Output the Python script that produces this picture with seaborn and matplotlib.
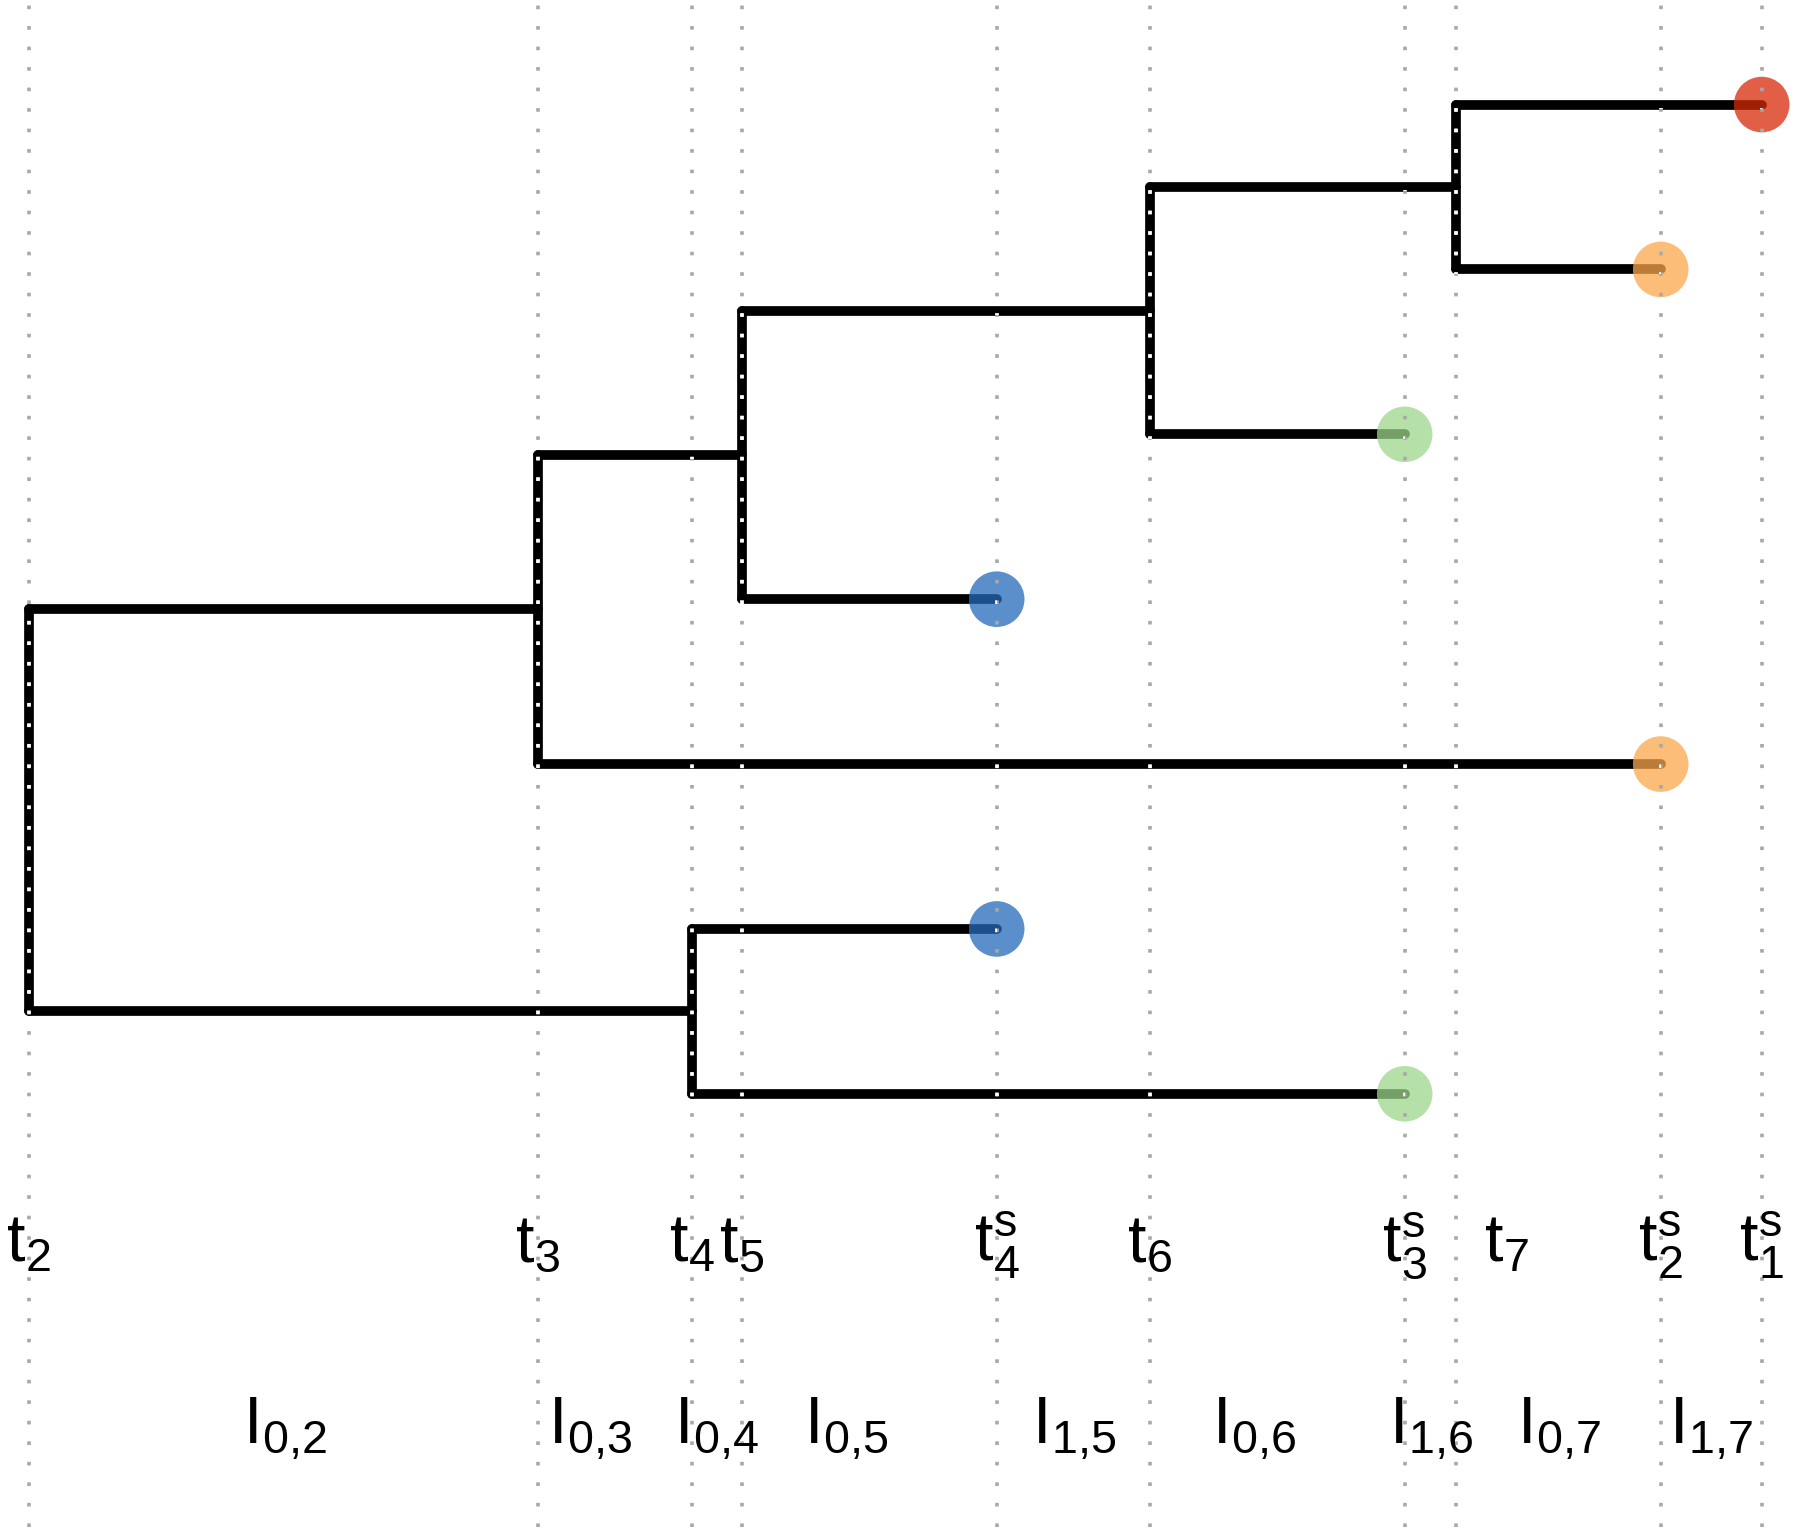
import numpy as np
import pandas as pd
import matplotlib
matplotlib.use("Agg")
import matplotlib.pyplot as plt
from matplotlib.path import Path
import seaborn as sns

# event times on the time axis (arbitrary units, t2 = 0)
event_labels = [r"t_{2}", r"t_{3}", r"t_{4}", r"t_{5}", r"t^{s}_{4}",
                r"t_{6}", r"t^{s}_{3}", r"t_{7}", r"t^{s}_{2}", r"t^{s}_{1}"]
event_times = [0.0, 5.09, 6.63, 7.13, 9.68, 11.21, 13.76, 14.27, 16.32, 17.33]
event_label_x = [0.0, 5.09, 6.63, 7.13, 9.68, 11.21, 13.76, 14.78, 16.32, 17.33]

# intervals between consecutive events
interval_labels = [r"I_{0{,}2}", r"I_{0{,}3}", r"I_{0{,}4}", r"I_{0{,}5}", r"I_{1{,}5}",
                   r"I_{0{,}6}", r"I_{1{,}6}", r"I_{0{,}7}", r"I_{1{,}7}"]
interval_label_x = [2.56, 5.61, 6.88, 8.17, 10.45, 12.25, 14.02, 15.30, 16.82]

# leaves, top to bottom
leaf_names = ["L1", "L2", "L3", "L4", "L5", "L6", "L7"]
leaf_rank = [7, 6, 5, 4, 3, 2, 1]
leaf_time = [17.33, 16.32, 13.76, 9.68, 16.32, 9.68, 13.76]
leaf_group = ["s1", "s2", "s3", "s4", "s2", "s4", "s3"]

# internal nodes: time and children
node_names = ["root", "n3", "n4", "n5", "n6", "n7"]
node_time = [0.0, 5.09, 6.63, 7.13, 11.21, 14.27]
node_children = [["n3", "n4"], ["n5", "L5"], ["L6", "L7"],
                 ["n6", "L4"], ["n7", "L3"], ["L1", "L2"]]

group_colors = {"s1": "#d62a08", "s2": "#faa74b", "s3": "#9cd68b", "s4": "#236abb"}

# ---- build tree coordinates ----
pos = {n: (t, y) for n, t, y in zip(leaf_names, leaf_time, leaf_rank)}
kids = dict(zip(node_names, node_children))
ntime = dict(zip(node_names, node_time))


def place(n):
    if n in pos:
        return pos[n][1]
    ys = [place(c) for c in kids[n]]
    pos[n] = (ntime[n], np.mean(ys))
    return pos[n][1]


place("root")

sns.set_style("white")
plt.rcParams["font.family"] = ["Liberation Sans", "DejaVu Sans"]
plt.rcParams["text.color"] = "black"
plt.rcParams["mathtext.fontset"] = "custom"
plt.rcParams["mathtext.rm"] = "Liberation Sans"
plt.rcParams["mathtext.it"] = "Liberation Sans"

fig = plt.figure(figsize=(18, 15.39), dpi=100)
ax = fig.add_axes([0, 0, 1, 1])
ax.set_xlim(-0.287, 17.713)
ax.set_ylim(-1.70, 7.634)

lw = 7
# half line width in data units (for the clip region of the white dots)
hx = 0.045
hy = 0.027
rects = []


def box(x0, x1, y0, y1):
    return Path([(x0, y0), (x1, y0), (x1, y1), (x0, y1), (x0, y0)],
                [Path.MOVETO, Path.LINETO, Path.LINETO, Path.LINETO, Path.CLOSEPOLY])


for n in node_names:
    tx, ty = pos[n]
    cy = [pos[c][1] for c in kids[n]]
    ax.plot([tx, tx], [min(cy), max(cy)], color="black", lw=lw,
            solid_capstyle="round", zorder=2)
    rects.append(box(tx - hx, tx + hx, min(cy) - hy, max(cy) + hy))
    for c in kids[n]:
        cx, cyy = pos[c]
        ax.plot([tx, cx], [cyy, cyy], color="black", lw=lw,
                solid_capstyle="round", zorder=2)
        rects.append(box(tx, cx, cyy - hy, cyy + hy))

tips = pd.DataFrame({"time": leaf_time, "rank": leaf_rank, "group": leaf_group})
sns.scatterplot(data=tips, x="time", y="rank", hue="group", palette=group_colors,
                s=1600, alpha=0.75, edgecolor="none", legend=False, ax=ax, zorder=3)

# dotted event lines; white where they cross the black branches
tree_clip = Path.make_compound_path(*rects)
dots = (0, (1, 4.68))
for t in event_times:
    ax.axvline(t, ymin=0.008, ymax=0.997, color="#a8a8a8", lw=2.6, linestyle=dots,
               dash_capstyle="butt", zorder=4)
    wl = ax.axvline(t, ymin=0.008, ymax=0.997, color="white", lw=2.6, linestyle=dots,
                    dash_capstyle="butt", zorder=4.5)
    wl.set_clip_path(tree_clip, ax.transData)

for lab, x in zip(event_labels, event_label_x):
    ax.text(x, -0.02, "$\\mathregular{" + lab + "}$", ha="center", va="baseline",
            fontsize=48, zorder=5)

for lab, x in zip(interval_labels, interval_label_x):
    ax.text(x, -1.12, "$\\mathregular{" + lab + "}$", ha="center", va="baseline",
            fontsize=48, zorder=5)

ax.axis("off")

fig.savefig("out.png", dpi=100)
